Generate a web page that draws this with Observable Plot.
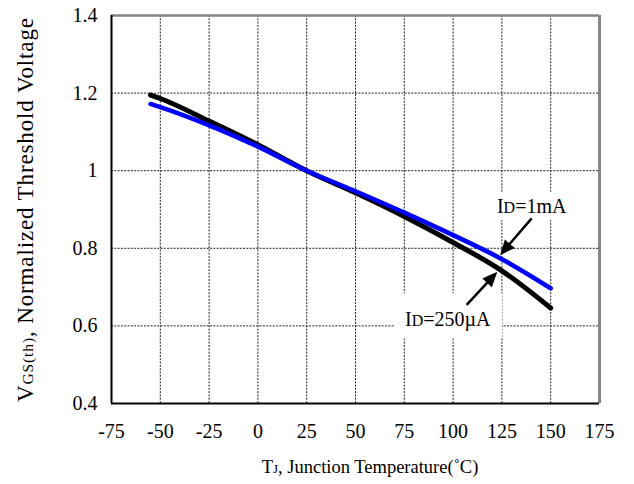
<!DOCTYPE html>
<html>
<head>
<meta charset="utf-8">
<script src="https://cdn.jsdelivr.net/npm/d3@7"></script>
<script src="https://cdn.jsdelivr.net/npm/@observablehq/plot@0.6"></script>
<style>
  html, body { margin: 0; padding: 0; background: #fff; }
</style>
</head>
<body>
<div id="chart"></div>
<script>
// ---- data ----
const temps    = [-55, -50, -25, 0, 25, 50, 75, 100, 125, 150];
const vth250uA = [1.195, 1.186, 1.128, 1.067, 1.0, 0.943, 0.882, 0.815, 0.742, 0.646];
const vth1mA   = [1.172, 1.164, 1.117, 1.062, 1.0, 0.947, 0.892, 0.834, 0.772, 0.697];

const xTicks = [-75, -50, -25, 0, 25, 50, 75, 100, 125, 150, 175];
const yTicks = [0.4, 0.6, 0.8, 1, 1.2, 1.4];

// annotations (data units): label anchor and arrow from -> to
const labelNames  = [["I", "D", "=1mA"], ["I", "D", "=250µA"]];
const labelAt     = [[122.7, 0.890], [75.6, 0.598]];
const arrowFrom   = [[140.5, 0.876], [107.2, 0.653]];
const arrowTo     = [[124.3, 0.781], [122.9, 0.738]];

const xTitle = ["T", "J", ", Junction Temperature(˚C)"];
const yTitle = ["V", "GS(th)", ", Normalized Threshold Voltage"];

// ---- tables ----
const rows250 = temps.map((t, i) => ({t, v: vth250uA[i]}));
const rows1m  = temps.map((t, i) => ({t, v: vth1mA[i]}));

const font = "'Liberation Serif', 'Times New Roman', serif";
const grid = {stroke: "#222", strokeWidth: 1, strokeDasharray: "2,1.3"};

const chart = Plot.plot({
  width: 634,
  height: 484,
  marginLeft: 111,
  marginRight: 35,
  marginTop: 15,
  marginBottom: 81,
  style: `font-family: ${font}; font-size: 20px; background: #fff; color: #000;`,
  x: {domain: [-75, 175], ticks: xTicks, tickSize: 0, tickPadding: 20, tickFormat: d => String(d), label: null},
  y: {domain: [0.4, 1.4], ticks: yTicks, tickSize: 0, tickPadding: 14, tickFormat: d => String(d), label: null},
  marks: [
    Plot.ruleX(xTicks.slice(1, -1), grid),
    Plot.ruleY(yTicks.slice(1, -1), grid),
    Plot.ruleY([yTicks[yTicks.length - 1]], {stroke: "#858585", strokeWidth: 2.7}),
    Plot.ruleX([xTicks[xTicks.length - 1]], {stroke: "#858585", strokeWidth: 3}),
    Plot.ruleX([xTicks[0]], {stroke: "#000", strokeWidth: 2}),
    Plot.ruleY([yTicks[0]], {stroke: "#000", strokeWidth: 2}),
    Plot.line(rows250, {x: "t", y: "v", stroke: "#000", strokeWidth: 5, curve: "monotone-x"}),
    Plot.line(rows1m, {x: "t", y: "v", stroke: "#0000ff", strokeWidth: 4.5, curve: "monotone-x"})
  ]
});

document.getElementById("chart").appendChild(chart);

const svg = d3.select(chart);
// axis tick labels: serif face at 20px
svg.selectAll("text").style("font-family", font).style("font-size", "20px").style("fill", "#000");

const sx = chart.scale("x"), sy = chart.scale("y");

// axis titles
function titled(g, parts, big, small) {
  parts.forEach((p, i) => g.append("tspan").style("font-size", (i === 1 ? small : big) + "px").text(p));
}
const xt = svg.append("text")
  .attr("x", 370).attr("y", 473)
  .attr("text-anchor", "middle").style("font-family", font).attr("fill", "#000");
titled(xt, xTitle, 18.5, 13);

const yt = svg.append("text")
  .attr("transform", "translate(33,210) rotate(-90)")
  .attr("text-anchor", "middle").style("font-family", font).attr("fill", "#000")
  .attr("textLength", 384).attr("lengthAdjust", "spacing");
titled(yt, yTitle, 23, 15.5);

// annotation labels with white boxes, and arrows
const pads = [[4, 4, 3, 3], [10, 11, 15, 7]]; // left, right, top, bottom
const ann = svg.append("g");
const boxes = ann.append("g");
const arrows = ann.append("g");
const texts = ann.append("g");

labelNames.forEach((parts, i) => {
  const px = sx.apply(labelAt[i][0]), py = sy.apply(labelAt[i][1]);
  const t = texts.append("text").attr("x", px).attr("y", py)
    .attr("text-anchor", "start").style("font-family", font).attr("fill", "#000");
  parts.forEach((p, j) => t.append("tspan").style("font-size", (j === 1 ? 16 : 20) + "px").text(p));
  const b = t.node().getBBox();
  const [l, r, tp, bt] = pads[i];
  boxes.append("rect")
    .attr("x", b.x - l).attr("y", b.y - tp)
    .attr("width", b.width + l + r).attr("height", b.height + tp + bt)
    .attr("fill", "#fff");
});

arrowFrom.forEach((f, i) => {
  const x1 = sx.apply(f[0]), y1 = sy.apply(f[1]);
  const x2 = sx.apply(arrowTo[i][0]), y2 = sy.apply(arrowTo[i][1]);
  const dx = x2 - x1, dy = y2 - y1, len = Math.hypot(dx, dy);
  const ux = dx / len, uy = dy / len;
  const hl = 15, hw = 6.5;
  const bx = x2 - ux * hl, by = y2 - uy * hl;
  arrows.append("line")
    .attr("x1", x1).attr("y1", y1).attr("x2", bx + ux * 2).attr("y2", by + uy * 2)
    .attr("stroke", "#000").attr("stroke-width", 2.5);
  arrows.append("polygon")
    .attr("points", [[x2, y2], [bx - uy * hw, by + ux * hw], [bx + uy * hw, by - ux * hw]].map(p => p.join(",")).join(" "))
    .attr("fill", "#000");
});
</script>
</body>
</html>
